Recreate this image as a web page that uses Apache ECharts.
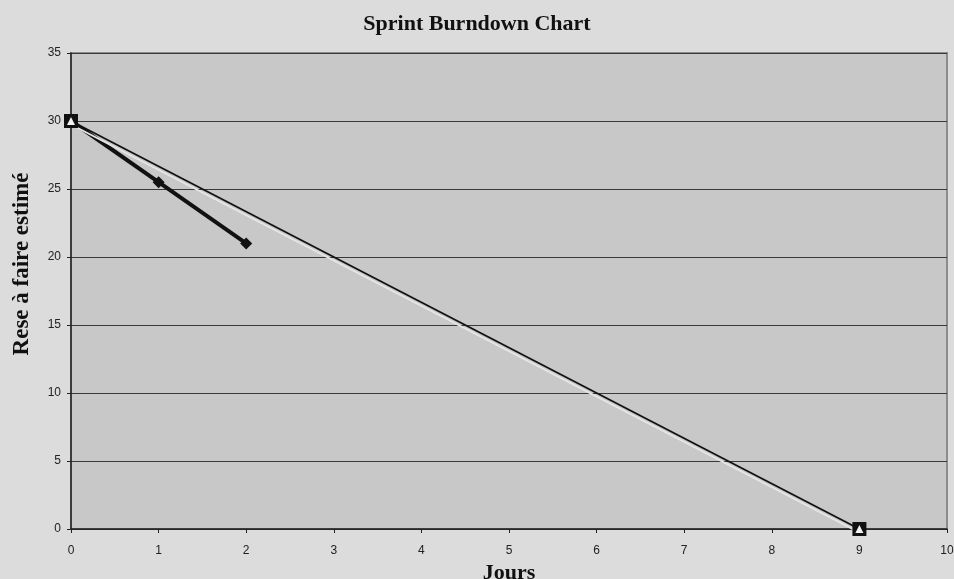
<!DOCTYPE html>
<html>
<head>
<meta charset="utf-8">
<script src="https://cdn.jsdelivr.net/npm/echarts@6/dist/echarts.min.js"></script>
<style>
  html, body { margin: 0; padding: 0; background: #dcdcdc; }
  #chart { width: 954px; height: 579px; }
</style>
</head>
<body>
<div id="chart"></div>
<script>
// Sprint burndown: remaining estimated work per day
const days = [0, 1, 2];
const remaining = [30, 25.5, 21];
const idealDays = [0, 9];
const idealRemaining = [30, 0];
const xTicks = { min: 0, max: 10, step: 1 };
const yTicks = { min: 0, max: 35, step: 5 };

const serif = '"Liberation Serif", "Times New Roman", serif';
const sans = '"Liberation Sans", Arial, sans-serif';

const actualData = days.map((d, i) => [d, remaining[i]]);
const idealData = idealDays.map((d, i) => [d, idealRemaining[i]]);

const chart = echarts.init(document.getElementById('chart'));
chart.setOption({
  backgroundColor: '#dcdcdc',
  animation: false,
  title: {
    text: 'Sprint Burndown Chart',
    left: 'center',
    top: 8,
    textStyle: { fontFamily: serif, fontWeight: 'bold', fontSize: 22, color: '#111' }
  },
  grid: {
    left: 71, right: 7, top: 53, bottom: 50,
    outerBoundsMode: 'none',
    containLabel: false,
    show: true,
    backgroundColor: '#c8c8c8',
    borderColor: '#8c8c8c',
    borderWidth: 2
  },
  xAxis: {
    type: 'value',
    min: xTicks.min, max: xTicks.max, interval: xTicks.step,
    name: 'Jours',
    nameLocation: 'middle',
    nameGap: 22,
    nameTextStyle: { fontFamily: serif, fontWeight: 'bold', fontSize: 22, color: '#111' },
    axisLine: { show: true, onZero: false, lineStyle: { color: '#222', width: 1.5 } },
    axisTick: { show: true, length: 4, lineStyle: { color: '#222' } },
    axisLabel: { fontFamily: sans, fontSize: 12, color: '#222', margin: 16 },
    splitLine: { show: false }
  },
  yAxis: {
    type: 'value',
    min: yTicks.min, max: yTicks.max, interval: yTicks.step,
    name: 'Rese à faire estimé',
    nameLocation: 'middle',
    nameRotate: 90,
    nameGap: 37,
    nameTextStyle: {
      fontFamily: serif, fontWeight: 'bold', fontSize: 23, color: '#111',
      padding: [0, 0, 0, 54]
    },
    axisLine: { show: true, onZero: false, lineStyle: { color: '#222', width: 1.5 } },
    axisTick: { show: true, length: 4, lineStyle: { color: '#222' } },
    axisLabel: { fontFamily: sans, fontSize: 12, color: '#222', margin: 10 },
    splitLine: { show: true, lineStyle: { color: '#3a3a3a', width: 1.2 } }
  },
  series: [
    {
      name: 'Réel',
      type: 'line',
      data: actualData,
      symbol: 'diamond',
      symbolSize: 12,
      itemStyle: { color: '#111' },
      lineStyle: { color: '#111', width: 4 },
      z: 3
    },
    {
      name: 'Idéal',
      type: 'line',
      data: idealData,
      symbol: 'rect',
      symbolSize: 14,
      itemStyle: { color: '#111' },
      lineStyle: {
        color: '#111', width: 1.8,
        shadowColor: '#e6e6e6', shadowBlur: 0, shadowOffsetX: -1, shadowOffsetY: 3
      },
      z: 4
    },
    {
      name: 'Idéal (repère)',
      type: 'line',
      data: idealData,
      symbol: 'triangle',
      symbolSize: 8,
      itemStyle: { color: '#f4f4f4' },
      lineStyle: { width: 0 },
      z: 5
    }
  ]
});
</script>
</body>
</html>
